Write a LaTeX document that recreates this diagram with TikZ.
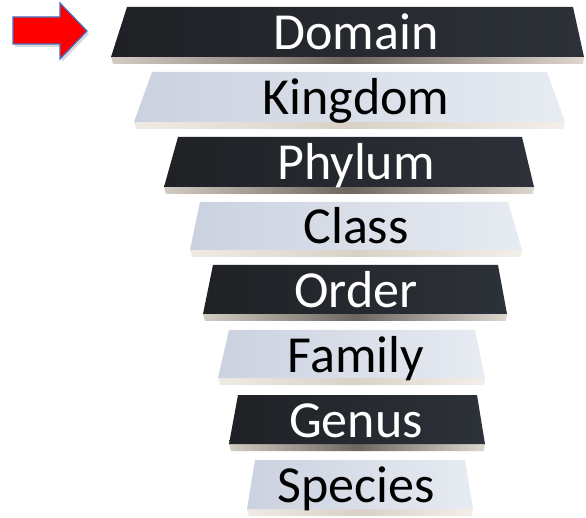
\documentclass[tikz,border=0pt]{standalone}
\usepackage{fontspec}
\setmainfont{Carlito}
\usetikzlibrary{shadows}
\definecolor{darkFL}{HTML}{1F2125}
\definecolor{darkFR}{HTML}{2D3139}
\definecolor{lightFL}{HTML}{CBD2DF}
\definecolor{lightFR}{HTML}{E7EBF2}
\definecolor{darkEL}{HTML}{D2CCC3}
\definecolor{darkEM}{HTML}{6E6760}
\definecolor{darkER}{HTML}{DDD7CE}
\definecolor{lightEL}{HTML}{EFEBE4}
\definecolor{lightEM}{HTML}{D9D1C6}
\definecolor{lightER}{HTML}{F3EFE9}
\definecolor{darkTX}{HTML}{FFFFFF}
\definecolor{lightTX}{HTML}{000000}
\definecolor{arrowred}{HTML}{FF0000}
\definecolor{arrowblue}{HTML}{4472C4}
\tikzset{
  barlabel/.style={anchor=base, inner sep=0pt, font=\fontsize{52}{60}\selectfont},
  pointer/.style={fill=arrowred, draw=arrowblue, line width=1.2pt, line join=miter,
    drop shadow={opacity=0.3, shadow xshift=2pt, shadow yshift=-3pt}}
}
\begin{document}
\begin{tikzpicture}[x=1pt,y=-1pt]
\useasboundingbox (0,0) rectangle (586,518);
\foreach \n/\tl/\tr/\bl/\br/\ty/\by/\lab/\kind in {
 dom/127/573/111/584/7/57/Domain/dark,
 kin/152/547/134/565/72/122/Kingdom/light,
 phy/178/522/164/534/137/187/Phylum/dark,
 cla/200/508/190/522/202/250/Class/light,
 ord/213/498/203/507/265/314/Order/dark,
 fam/229/475/218/485/330/378/Family/light,
 gen/238/477/229/485/395/444/Genus/dark,
 spe/255/465/247/473/460/509/Species/light}
{
 \shade[left color=\kind EL, right color=\kind ER, middle color=\kind EM]
   (\bl,\by) -- (\br,\by) -- (\br-1,\by+7) -- (\bl+2,\by+7) -- cycle;
 \shade[left color=\kind FL, right color=\kind FR]
   (\tl,\ty) -- (\tr,\ty) -- (\br,\by) -- (\bl,\by) -- cycle;
 \node[barlabel, text=\kind TX] (\n) at (356, {(\ty+\by)/2+18}) {\lab};
}
\path[pointer] (13,17) -- (60,17) -- (60,3) -- (87,31) -- (60,59) -- (60,44) -- (13,44) -- cycle;
\end{tikzpicture}
\end{document}
